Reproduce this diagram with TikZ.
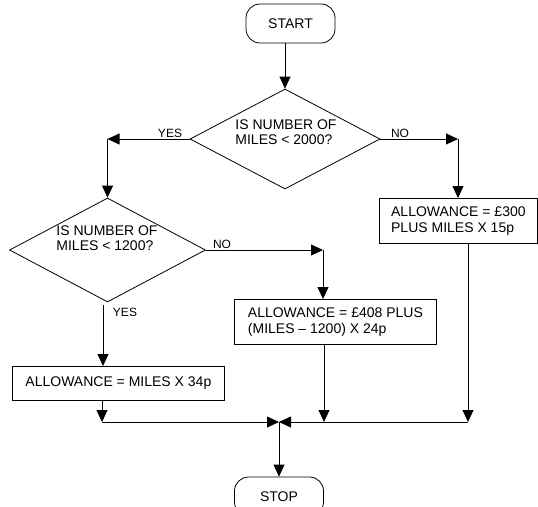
\documentclass[tikz,border=0pt]{standalone}
\usepackage{fontspec}
\setmainfont{Liberation Sans}
\usetikzlibrary{arrows.meta,shapes.geometric}
\begin{document}
\begin{tikzpicture}[x=1pt,y=-1pt,
  line width=0.8pt,
  arr/.style={-{Triangle[length=12pt,width=11pt]}},
  term/.style={draw, rounded corners=14pt, minimum width=89pt, minimum height=39pt, inner sep=0pt, font=\fontsize{14}{16}\selectfont},
  dec/.style={draw, diamond, minimum width=190pt, minimum height=100pt, inner sep=0pt},
  dtext/.style={align=left, font=\fontsize{14}{15}\selectfont, inner sep=0pt},
  procbox/.style={draw, align=left, font=\fontsize{14}{16}\selectfont, inner xsep=0pt, inner ysep=0pt, minimum height=45pt, anchor=north west},
  lbl/.style={font=\fontsize{12}{14}\selectfont, inner sep=0pt}]
\useasboundingbox (0,0) rectangle (538,506);
\clip (0,0) rectangle (538,506);

% nodes
\node[term] (start) at (290.5,23.5) {START};
\node[dec] (d1) at (285,139) {};
\node[dtext] (d1t) at (286,132) {IS NUMBER OF\\MILES < 2000?};
\node[dec, minimum width=196pt, minimum height=104pt] (d2) at (107.5,250) {};
\node[dtext] (d2t) at (107,238.5) {IS NUMBER OF\\MILES < 1200?};
\node[procbox, minimum width=158pt] (b300) at (379,198) {ALLOWANCE = £300\\PLUS MILES X 15p};
\node[procbox, minimum width=202pt] (b408) at (234,299) {ALLOWANCE = £408 PLUS\\(MILES – 1200) X 24p};
\node[procbox, minimum width=212pt, minimum height=34pt] (b34) at (12,366) {ALLOWANCE = MILES X 34p};
\node[term] (stop) at (279,496.5) {STOP};

% labels
\node[lbl] (yes1) at (170,133) {YES};
\node[lbl] (no1) at (400,133) {NO};
\node[lbl] (no2) at (222,244) {NO};
\node[lbl] (yes2) at (125,312) {YES};

% corner coordinates
\coordinate (c1) at (107.5,139);
\coordinate (c2) at (458,139);
\coordinate (c3) at (323,250);
\coordinate (y2) at (103,305);
\coordinate (lc) at (102,422);
\coordinate (mc) at (324,422);
\coordinate (rc) at (468,422);
\coordinate (m) at (279,422);

% connectors
\draw[arr] (start.south -| d1.north) -- (d1.north);
\draw[arr] (d1.west) -- (c1);
\draw[arr] (c1) -- (d2.north);
\draw[arr] (d1.east) -- (c2);
\draw[arr] (c2) -- (c2 |- b300.north);
\draw[arr] (d2.east) -- (c3);
\draw[arr] (c3) -- (c3 |- b408.north);
\draw[arr] (y2) -- (y2 |- b34.north);
\draw[arr] (b34.south -| lc) -- (lc);
\draw[arr] (lc) -- (m);
\draw[arr] (b408.south -| mc) -- (mc);
\draw[arr] (b300.south -| rc) -- (rc);
\draw[arr] (rc) -- (m);
\draw[arr] (m) -- (stop.north);
\end{tikzpicture}
\end{document}
